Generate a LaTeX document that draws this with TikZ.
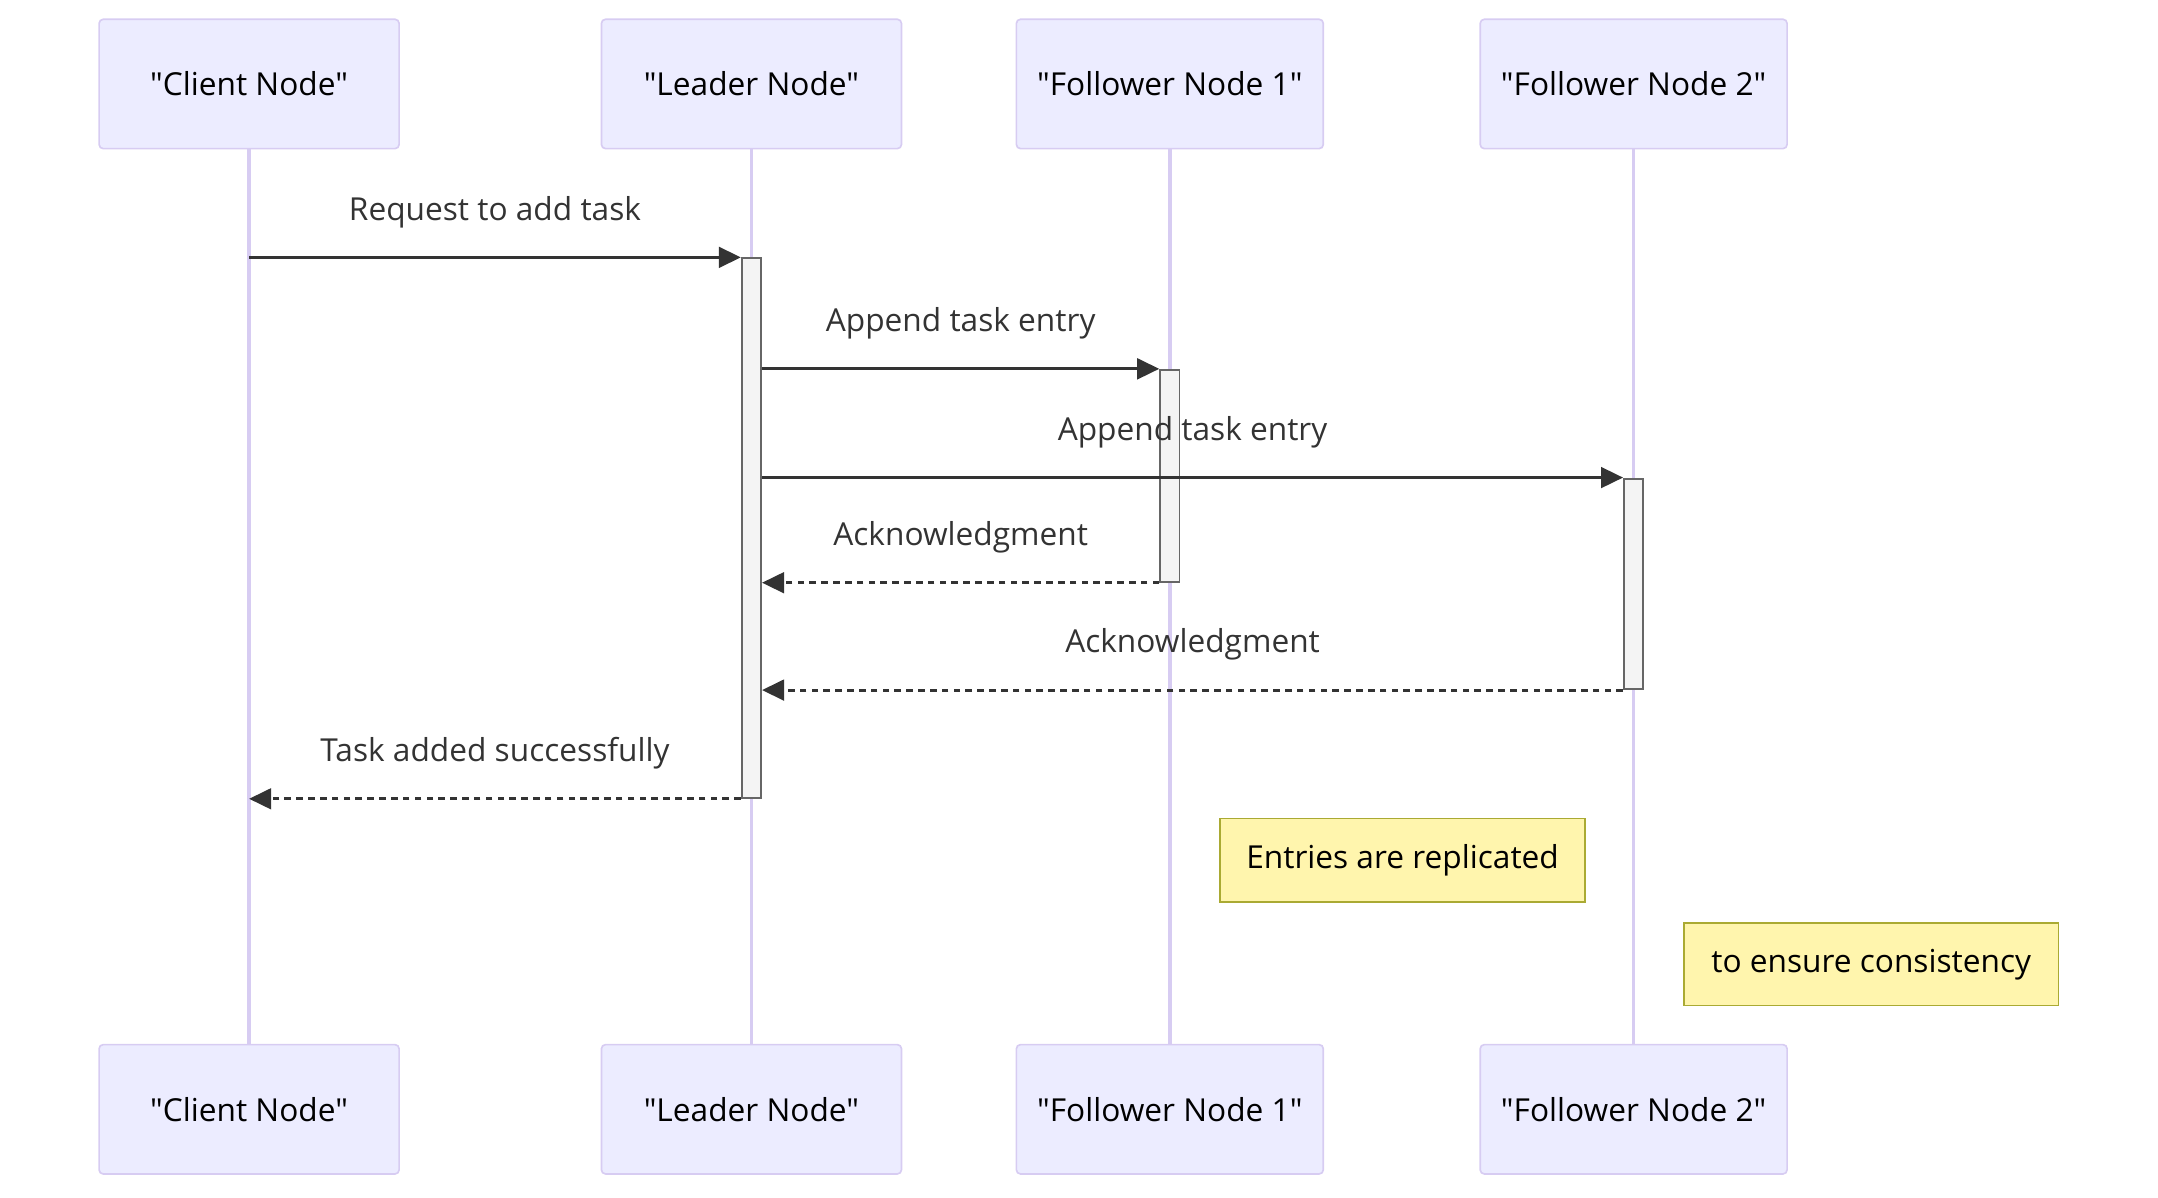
\documentclass[tikz,border=0pt]{standalone}
\usepackage{fontspec}
\setmainfont{Open Sans}[Ligatures=TeXOff]
\usetikzlibrary{arrows.meta, positioning}
\definecolor{actorfill}{RGB}{236,236,255}
\definecolor{actorline}{RGB}{215,204,242}
\definecolor{msgcol}{RGB}{51,51,51}
\definecolor{notefill}{RGB}{255,245,173}
\definecolor{noteline}{RGB}{170,170,51}
\definecolor{actfill}{RGB}{244,244,244}
\definecolor{actline}{RGB}{102,102,102}

\begin{document}
\begin{tikzpicture}[x=1pt, y=-1pt,
    actor/.style={draw=actorline, fill=actorfill, rounded corners=3pt, line width=1.2pt,
      minimum height=94pt, inner sep=0pt, text=black, font=\fontsize{23}{27}\selectfont},
    lifeline/.style={draw=actorline, line width=2.6pt},
    actbar/.style={draw=actline, fill=actfill, line width=1.4pt, minimum width=14pt,
      inner sep=0pt, anchor=north},
    msg/.style={draw=msgcol, line width=2.1pt, -{Triangle[length=16pt,width=15pt]}},
    reply/.style={msg, dash pattern=on 4.8pt off 3.8pt},
    lbl/.style={anchor=base, yshift=27pt, text=msgcol, font=\fontsize{23}{27}\selectfont},
    note/.style={draw=noteline, fill=notefill, line width=1.2pt, inner sep=0pt,
      text=black, font=\fontsize{23}{27}\selectfont, anchor=north west}]
  \useasboundingbox (0,0) rectangle (1568,870);

  % participants, top and bottom
  \node[actor, minimum width=218pt] (clientT) at (181,61) {"Client Node"};
  \node[actor, minimum width=218pt] (leaderT) at (546,61) {"Leader Node"};
  \node[actor, minimum width=223pt] (followAT) at (850,61) {"Follower Node 1"};
  \node[actor, minimum width=223pt] (followBT) at (1187,61) {"Follower Node 2"};
  \node[actor, minimum width=218pt] (clientB) at (181,806) {"Client Node"};
  \node[actor, minimum width=218pt] (leaderB) at (546,806) {"Leader Node"};
  \node[actor, minimum width=223pt] (followAB) at (850,806) {"Follower Node 1"};
  \node[actor, minimum width=223pt] (followBB) at (1187,806) {"Follower Node 2"};

  \draw[lifeline] (clientT) -- (clientB);
  \draw[lifeline] (leaderT) -- (leaderB);
  \draw[lifeline] (followAT) -- (followAB);
  \draw[lifeline] (followBT) -- (followBB);

  % activations
  \node[actbar, minimum height=392pt] (actL) at (546,187) {};
  \node[actbar, minimum height=154pt] (actA) at (850,268) {};
  \node[actbar, minimum height=153pt] (actB) at (1187,347) {};

  % messages
  \draw[msg] (clientT.south |- actL.north) -- (actL.north west)
    node[lbl, midway] {Request to add task};
  \draw[msg] (actL.east |- actA.north) -- (actA.north west)
    node[lbl, midway] {Append task entry};
  \draw[msg] (actL.east |- actB.north) -- (actB.north west)
    node[lbl, midway] {Append task entry};
  \draw[reply] (actA.south west) -- (actL.east |- actA.south)
    node[lbl, midway] {Acknowledgment};
  \draw[reply] (actB.south west) -- (actL.east |- actB.south)
    node[lbl, midway] {Acknowledgment};
  \draw[reply] (actL.south west) -- (clientT.south |- actL.south)
    node[lbl, midway] {Task added successfully};

  % notes
  \node[note, minimum width=265pt, minimum height=61pt] (noteA) at (886,594) {Entries are replicated};
  \node[note, minimum width=272pt, minimum height=60pt] (noteB) at (1223,670) {to ensure consistency};
\end{tikzpicture}
\end{document}
